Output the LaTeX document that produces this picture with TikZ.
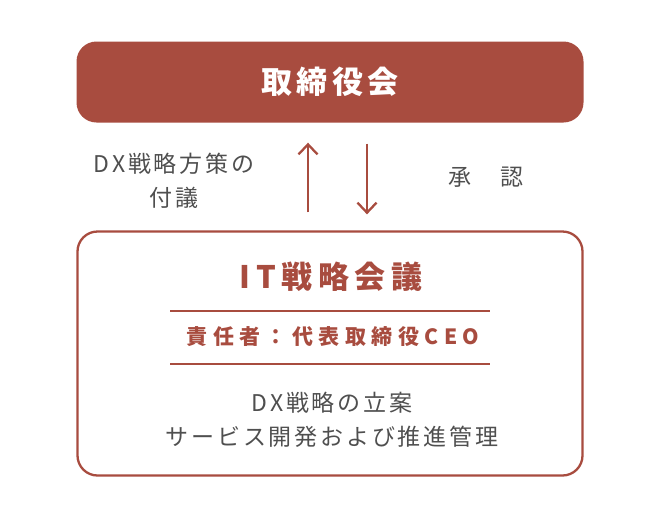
\documentclass[tikz,border=0pt]{standalone}
\usepackage{fontspec}
\setmainfont{Noto Sans CJK JP}
\usepackage{tikz}
\usetikzlibrary{arrows.meta}
\usetikzlibrary{calc,positioning}
\tikzset{>={Straight Barb[length=10,width=19]}}
\usepackage{xcolor}
\definecolor{myred}{HTML}{A84C3F}
\definecolor{mygray}{HTML}{4F4F4F}
\tikzset{
  boardbox/.style={fill=myred,rounded corners=20,minimum width=507,minimum height=81,
    inner sep=0,text=white,font=\fontsize{31}{31}\selectfont\bfseries\addfontfeatures{LetterSpace=14}},
  meetbox/.style={draw=myred,line width=2.3,rounded corners=20,minimum width=505,minimum height=244,inner sep=0},
  meettitle/.style={text=myred,font=\fontsize{31}{31}\selectfont\bfseries\addfontfeatures{LetterSpace=18}},
  headline/.style={text=myred,font=\fontsize{21}{21}\selectfont\bfseries\addfontfeatures{LetterSpace=26}},
  graytext/.style={text=mygray,align=center,font=\fontsize{23}{34}\selectfont\addfontfeatures{LetterSpace=12}},
  rule/.style={myred,line width=1.3},
  flow/.style={->,myred,line width=2.3},
}

\begin{document}
\begin{tikzpicture}[x=1pt,y=-1pt]
        \useasboundingbox (0,0) rectangle (660,520);

        % BOXES
        \node[boardbox] (board) at (330,82) {取締役会};
        \node[meetbox] (meet) at (330,353.5) {};

        % ARROWS
        \coordinate (upx) at (308,0);
        \coordinate (downx) at (367,0);
        \draw[flow] ($(meet.north -| upx)+(0,-18)$) -- ($(board.south -| upx)+(0,20)$);
        \draw[flow] ($(board.south -| downx)+(0,21)$) -- ($(meet.north -| downx)+(0,-16)$);
        \node[graytext] (submit) at (174,181) {DX戦略方策の\\付議};
        \node[graytext] (approve) at (486,177) {承　認};

        % MEETING
        \node[meettitle] (ittitle) at (331,277) {IT戦略会議};
        \coordinate (r1w) at (170,311);
        \coordinate (r1e) at (490,311);
        \coordinate (r2w) at (170,364);
        \coordinate (r2e) at (490,364);
        \draw[rule] (r1w) -- (r1e);
        \node[headline] (owner) at (333,337) {責任者：代表取締役CEO};
        \draw[rule] (r2w) -- (r2e);
        \node[graytext] (tasks) at (332,420) {DX戦略の立案\\サービス開発および推進管理};

    \end{tikzpicture}
\end{document}
